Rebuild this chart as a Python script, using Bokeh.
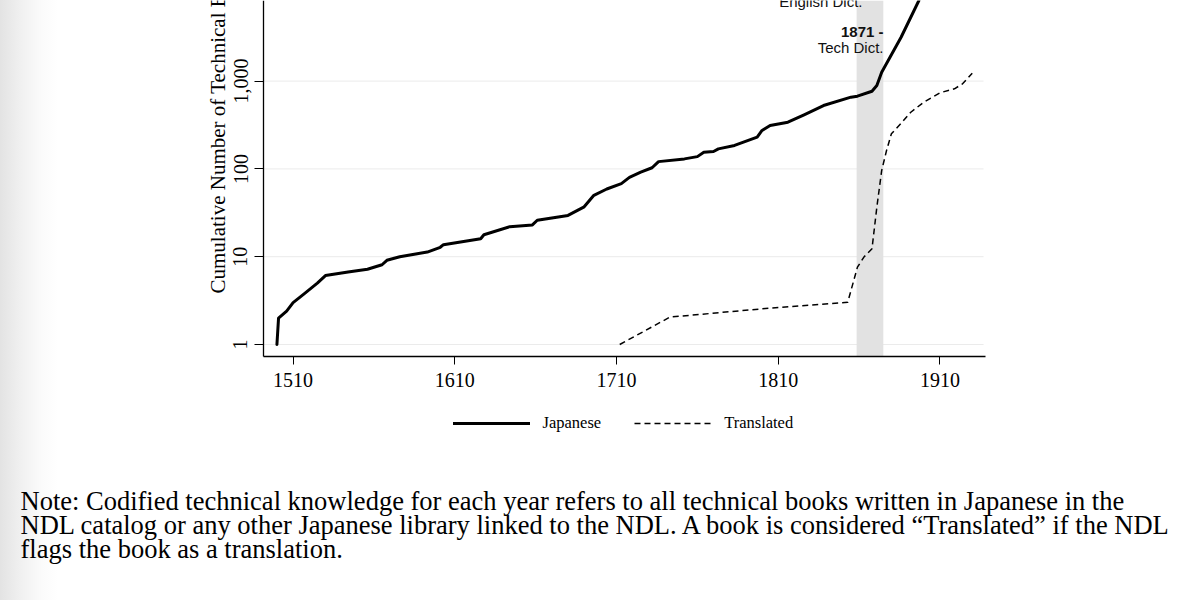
import math
from bokeh.plotting import figure
from bokeh.models import (Range1d, FixedTicker, NumeralTickFormatter, Label,
                          BoxAnnotation, Legend, LegendItem)
from bokeh.embed import file_html
from bokeh.resources import INLINE

# ---------------- data ----------------
japanese_years = [1500, 1501, 1506, 1510, 1517, 1525, 1530, 1544, 1556, 1565,
                  1568, 1576, 1593, 1601, 1603, 1626, 1628, 1644, 1658, 1661,
                  1680, 1690, 1696, 1704, 1713, 1718, 1725, 1732, 1736, 1752,
                  1760, 1764, 1770, 1773, 1783, 1797, 1800, 1805, 1816, 1826,
                  1838, 1855, 1859, 1868, 1871, 1874, 1886, 1897]
japanese_counts = [1, 2, 2.4, 3.0, 3.8, 5.0, 6.1, 6.7, 7.2, 8.1,
                   9.1, 10, 11.3, 12.8, 13.7, 16, 17.8, 22, 23, 26,
                   29.5, 37, 50, 59, 68, 80, 92, 103, 121, 130,
                   138, 155, 158, 169, 185, 230, 274, 312, 340, 413,
                   527, 656, 673, 767, 891, 1262, 3160, 8280]

translated_years = [1712, 1743, 1800, 1853, 1859, 1863, 1868, 1871, 1874,
                    1877, 1880, 1886, 1892, 1900, 1910, 1919, 1924, 1930]
translated_counts = [1, 2.05, 2.55, 3.03, 7.6, 9.9, 12.3, 36.6, 96,
                     162, 251, 330, 442, 575, 736, 817, 930, 1230]

series_names = ["Japanese", "Translated"]
x_ticks = [1510, 1610, 1710, 1810, 1910]
y_ticks = [1, 10, 100, 1000, 10000]
band_start = 1858.5
band_end = 1875.0
english_dict_label = "English Dict."
tech_dict_year_label = "1871 -"
tech_dict_label = "Tech Dict."
y_title = "Cumulative Number of Technical Books"
note_lines = [
    "Note:  Codified technical knowledge for each year refers to all technical books written in Japanese in the",
    "NDL catalog or any other Japanese library linked to the NDL. A book is considered \u201cTranslated\u201d if the NDL",
    "flags the book as a translation.",
]

# plotted window (axis extents)
X_LO, X_HI = 1491.7, 1938.2
Y_LO, Y_HI = 0.7303, 8279

SERIF = "Liberation Serif"
SANS = "Liberation Sans"

# ---------------- figure (frame = whole canvas, axes at fixed spots) ----------------
p = figure(width=1200, height=600, output_backend="svg", toolbar_location=None,
           y_axis_type="log",
           x_range=Range1d(1329.05, 2071.16), y_range=Range1d(0.001214, Y_HI),
           min_border_left=0, min_border_right=0,
           min_border_top=0, min_border_bottom=0)
p.outline_line_color = None
p.background_fill_color = None
p.border_fill_color = None
p.styles = {"background": "linear-gradient(90deg, #e3e3e3 0px, #f1f1f1 22px, #fbfbfb 42px, #ffffff 58px)"}
p.grid.visible = False

p.xaxis.ticker = FixedTicker(ticks=x_ticks)
p.yaxis.ticker = FixedTicker(ticks=y_ticks)
p.yaxis.formatter = NumeralTickFormatter(format="0,0")
p.xaxis.fixed_location = Y_LO
p.yaxis.fixed_location = X_LO
p.xaxis.bounds = (X_LO, X_HI)
p.yaxis.bounds = (Y_LO, Y_HI)
for ax in (p.xaxis, p.yaxis):
    ax.axis_line_color = "black"
    ax.axis_line_width = 1.3
    ax.major_tick_line_color = "black"
    ax.major_tick_line_width = 1
    ax.major_tick_in = 0
    ax.minor_tick_line_color = None
    ax.major_label_text_font = SERIF
    ax.major_label_text_font_size = "20px"
    ax.major_label_text_color = "black"
p.xaxis.major_tick_out = 8
p.xaxis.major_label_standoff = 9
p.yaxis.major_tick_out = 9
p.yaxis.major_label_standoff = 7
p.yaxis.major_label_orientation = "vertical"

# light horizontal grid at the y ticks, only across the plotted window
p.segment(x0=[X_LO] * len(y_ticks), x1=[1937.0] * len(y_ticks),
          y0=y_ticks, y1=y_ticks, line_color="#ebebeb", line_width=1,
          level="underlay")

# shaded period
p.add_layout(BoxAnnotation(left=band_start, right=band_end, bottom=Y_LO,
                           fill_color="#e2e2e2", fill_alpha=1.0, line_alpha=0,
                           level="underlay"))

jr = p.line(japanese_years, japanese_counts, line_color="black", line_width=3,
            line_join="round", line_cap="round")
tr = p.line(translated_years, translated_counts, line_color="black",
            line_width=1.5, line_dash="6 4")

# event annotations (screen units = canvas pixels from the bottom-left)
p.add_layout(Label(x=862, y=599, x_units="screen", y_units="screen",
                   text=english_dict_label, text_align="right",
                   text_baseline="alphabetic", text_font=SANS,
                   text_font_size="15px", text_color="#111111"))
p.add_layout(Label(x=883, y=569.3, x_units="screen", y_units="screen",
                   text=tech_dict_year_label, text_align="right",
                   text_baseline="middle", text_font=SANS, text_font_style="bold",
                   text_font_size="15px", text_color="#111111"))
p.add_layout(Label(x=883, y=553.5, x_units="screen", y_units="screen",
                   text=tech_dict_label, text_align="right",
                   text_baseline="middle", text_font=SANS,
                   text_font_size="15px", text_color="#111111"))

# y title, running off the top as in the original
p.add_layout(Label(x=217, y=307, x_units="screen", y_units="screen",
                   text=y_title, angle=math.pi / 2, text_align="left",
                   text_baseline="middle", text_font=SERIF,
                   text_font_size="21px", text_color="black"))

# legend under the axis
legend = Legend(items=[LegendItem(label=series_names[0], renderers=[jr]),
                       LegendItem(label=series_names[1], renderers=[tr])],
                orientation="horizontal", location=(452.5, 166.7),
                glyph_width=77, glyph_height=20, label_height=20,
                label_standoff=13, spacing=33, padding=0, margin=0,
                border_line_color=None, background_fill_alpha=0,
                label_text_font=SERIF, label_text_font_size="16.5px",
                label_text_color="black")
p.add_layout(legend)

# note
for i, line in enumerate(note_lines):
    p.add_layout(Label(x=20, y=100 - 24 * i, x_units="screen", y_units="screen",
                       text=line, text_align="left", text_baseline="alphabetic",
                       text_font=SERIF, text_font_size="26.5px", text_color="black"))

open("out.html", "w").write(file_html(p, INLINE))
